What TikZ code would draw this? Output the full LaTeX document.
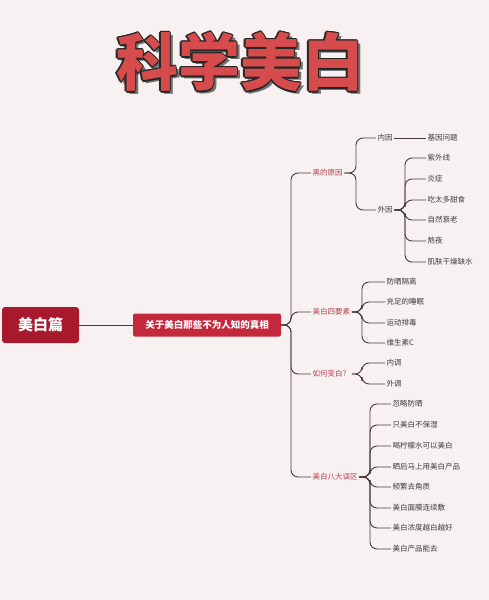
\documentclass[tikz,border=0pt]{standalone}
\usepackage{fontspec}
\setmainfont{Noto Sans CJK SC}
\definecolor{bgpink}{HTML}{F8F1F1}
\definecolor{rootred}{HTML}{A8192E}
\definecolor{boxred}{HTML}{C4283C}
\definecolor{catred}{HTML}{B4414F}
\definecolor{linegray}{HTML}{4A3C3E}
\definecolor{leafgray}{HTML}{3C3C3C}
\definecolor{titlered}{HTML}{D64B4B}
\tikzset{
  leaf/.style={anchor=west, inner sep=1.5pt, font=\fontsize{7.5}{8}\selectfont, text=leafgray},
  cat/.style={anchor=west, inner sep=1.5pt, font=\fontsize{7.5}{8}\selectfont, text=catred},
  branch/.style={draw=linegray, line width=0.9pt, rounded corners=7pt},
  titletext/.style={font=\bfseries\fontsize{62}{64}\selectfont},
}
\begin{document}
\begin{tikzpicture}[x=1pt,y=-1pt]
\fill[bgpink] (0,0) rectangle (489,600);
% title with shadow and outline
\node[titletext, text=black!55] (tshadow) at (243,65) {科学美白};
\foreach \dx/\dy in {-1.3/0, 1.3/0, 0/-1.3, 0/1.3, -0.9/-0.9, 0.9/0.9, -0.9/0.9, 0.9/-0.9}
  \node[titletext, text=black!85] at (240+\dx,62+\dy) {科学美白};
\node[titletext, text=titlered] (title) at (240,62) {科学美白};
% root and main topic
\node[fill=rootred, rounded corners=3pt, text=white, font=\bfseries\fontsize{15}{16}\selectfont,
  minimum width=77pt, minimum height=36pt] (root) at (40.5,325) {美白篇};
\node[fill=boxred, rounded corners=2pt, text=white, font=\bfseries\fontsize{9.5}{10}\selectfont,
  minimum width=148pt, minimum height=23pt] (main) at (207,325) {关于美白那些不为人知的真相};
\draw[linegray, line width=0.9pt] (root.east) -- (main.west);
% categories
\node[cat] (why) at (311,173) {黑的原因};
\node[cat] (four) at (311,312) {美白四要素};
\node[cat] (how) at (311,374) {如何变白？};
\node[cat] (myth) at (311,477) {美白八大误区};
\coordinate (h0) at (291,325);
\draw[branch] (main.east) -- (h0) |- (why.west);
\draw[branch] (main.east) -- (h0) |- (four.west);
\draw[branch] (main.east) -- (h0) |- (how.west);
\draw[branch] (main.east) -- (h0) |- (myth.west);
% why dark
\node[cat, text=leafgray] (nei) at (376,138) {内因};
\node[cat, text=leafgray] (wai) at (376,210) {外因};
\coordinate (h1) at (356,173);
\draw[branch] (why.east) -- (h1) |- (nei.west);
\draw[branch] (why.east) -- (h1) |- (wai.west);
\node[leaf] (gene) at (426,138) {基因问题};
\draw[branch] (nei.east) -- (gene.west);
\node[leaf] (uv) at (426,158) {紫外线};
\node[leaf] (infl) at (426,179) {炎症};
\node[leaf] (sugar) at (426,200) {吃太多甜食};
\node[leaf] (aging) at (426,220) {自然衰老};
\node[leaf] (late) at (426,241) {熬夜};
\node[leaf] (dry) at (426,262) {肌肤干燥缺水};
\coordinate (h2) at (405,210);
\foreach \n in {uv,infl,sugar,aging,late,dry}
  \draw[branch] (wai.east) -- (h2) |- (\n.west);
% four factors
\node[leaf] (sun) at (385,282) {防晒隔离};
\node[leaf] (sleep) at (385,302) {充足的睡眠};
\node[leaf] (sport) at (385,323) {运动排毒};
\node[leaf] (vitc) at (385,343) {维生素C};
\coordinate (h3) at (362,312);
\foreach \n in {sun,sleep,sport,vitc}
  \draw[branch] (four.east) -- (h3) |- (\n.west);
% how to whiten
\node[leaf] (inner) at (385,363) {内调};
\node[leaf] (outer) at (385,384) {外调};
\coordinate (h4) at (362,374);
\foreach \n in {inner,outer}
  \draw[branch] (how.east) -- (h4) |- (\n.west);
% eight myths
\node[leaf] (m1) at (391,404) {忽略防晒};
\node[leaf] (m2) at (391,425) {只美白不保湿};
\node[leaf] (m3) at (391,446) {喝柠檬水可以美白};
\node[leaf] (m4) at (391,467) {晒后马上用美白产品};
\node[leaf] (m5) at (391,487) {频繁去角质};
\node[leaf] (m6) at (391,508) {美白面膜连续敷};
\node[leaf] (m7) at (391,528) {美白浓度越白越好};
\node[leaf] (m8) at (391,549) {美白产品能去};
\coordinate (h5) at (370,477);
\foreach \n in {m1,m2,m3,m4,m5,m6,m7,m8}
  \draw[branch] (myth.east) -- (h5) |- (\n.west);
\end{tikzpicture}
\end{document}
